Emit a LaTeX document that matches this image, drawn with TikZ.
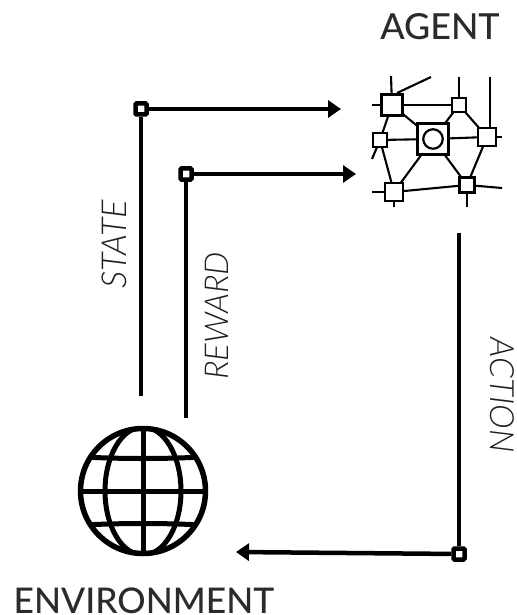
\documentclass[tikz,border=0pt]{standalone}
\usepackage{fontspec}
\setmainfont{Lato}
\newfontfamily\titlefont{Lato Medium}
\newfontfamily\lightfont[ItalicFont={Lato Light Italic}]{Lato Light}
\usetikzlibrary{arrows.meta}
\definecolor{ink}{HTML}{2B2B2B}
\definecolor{lab}{HTML}{1E1E1E}
\tikzset{
  title/.style={text=ink,inner sep=0pt,anchor=base,font=\fontsize{36}{36}\selectfont\titlefont},
  side/.style={text=lab,inner sep=0pt,font=\fontsize{34.5}{35}\selectfont\lightfont\itshape},
  flow/.style={line width=4.5bp,draw=black},
  tipped/.style={flow,-{Triangle[length=13bp,width=17bp]}},
  corner/.style={draw=black,line width=4.5bp,fill=white,minimum size=11bp,inner sep=0pt,rounded corners=1bp},
  netbox/.style={draw=black,line width=2.2bp,fill=white,inner sep=0pt},
  netline/.style={line width=2.1bp,draw=black},
  globeline/.style={line width=5bp,draw=black}
}
\begin{document}
\begin{tikzpicture}[x=1bp,y=-1bp]
\useasboundingbox (0,0) rectangle (517,615);
% labels
\node[title] (agent) at (440,40) {AGENT};
\node[title,font=\fontsize{35.5}{36}\selectfont\titlefont] (env) at (144,613) {ENVIRONMENT};
\node[side,rotate=90] (state) at (114,244) {STATE};
\node[side,rotate=90,font=\fontsize{33}{35}\selectfont\lightfont\itshape] (reward) at (217,316) {REWARD};
\node[side,rotate=-90,font=\fontsize{33.5}{35}\selectfont\lightfont\itshape] (action) at (502,395) {ACTION};
% flow connectors
\node[corner] (cs) at (141,109) {};
\node[corner] (cr) at (186,174) {};
\node[corner] (ca) at (459,554) {};
\coordinate (s0) at (141,396);
\coordinate (s1) at (341,109);
\coordinate (r0) at (186,418);
\coordinate (r1) at (356,174);
\coordinate (a0) at (459,233);
\coordinate (a1) at (236,552);
\draw[flow] (s0) -- (cs);
\draw[tipped] (cs) -- (s1);
\draw[flow] (r0) -- (cr);
\draw[tipped] (cr) -- (r1);
\draw[flow] (a0) -- (ca);
\draw[tipped] (ca) -- (a1);
% network
\coordinate (nA) at (392,105);
\coordinate (nB) at (459,105);
\coordinate (nC) at (433,139);
\coordinate (nD) at (380,140);
\coordinate (nE) at (487,137);
\coordinate (nF) at (394,192);
\coordinate (nG) at (467,185);
\draw[netline] (nA) -- (nB);
\draw[netline] (nA) -- (nC);
\draw[netline] (nA) -- (nD);
\draw[netline] (nB) -- (nC);
\draw[netline] (nB) -- (nE);
\draw[netline] (nC) -- (nD);
\draw[netline] (nC) -- (nE);
\draw[netline] (nC) -- (nF);
\draw[netline] (nC) -- (nG);
\draw[netline] (nD) -- (nF);
\draw[netline] (nE) -- (nG);
\draw[netline] (nF) -- (nG);
\draw[netline] (391,76) -- (nA);
\draw[netline] (431,77) -- (397,93);
\draw[netline] (372,105) -- (nA);
\draw[netline] (459,77) -- (nB);
\draw[netline] (490,77) -- (490,128);
\draw[netline] (502,137) -- (nE);
\draw[netline] (372,159) -- (nD);
\draw[netline] (372,192) -- (nF);
\draw[netline] (394,207) -- (nF);
\draw[netline] (467,207) -- (nG);
\draw[netline] (502,188) -- (nG);
\node[netbox,minimum size=21bp] (bA) at (nA) {};
\node[netbox,minimum size=14.5bp] (bB) at (nB) {};
\node[netbox,minimum size=31bp] (bC) at (nC) {};
\node[netbox,circle,minimum size=19.5bp] (bCi) at (nC) {};
\node[netbox,minimum size=14.5bp] (bD) at (nD) {};
\node[netbox,minimum size=18bp] (bE) at (nE) {};
\node[netbox,minimum size=18bp] (bF) at (nF) {};
\node[netbox,minimum size=15bp] (bG) at (nG) {};
% globe
\begin{scope}
\clip (143,491) circle (64);
\draw[globeline] (143,491) ellipse (38 and 64);
\draw[globeline] (143,427) -- (143,555);
\draw[globeline] (79,491) -- (207,491);
\draw[globeline] (85,457) .. controls (120,459) and (166,459) .. (201,457);
\draw[globeline] (85,525) .. controls (120,523) and (166,523) .. (201,525);
\end{scope}
\draw[line width=5.5bp,draw=black] (143,491) circle (62.5);
\end{tikzpicture}
\end{document}
